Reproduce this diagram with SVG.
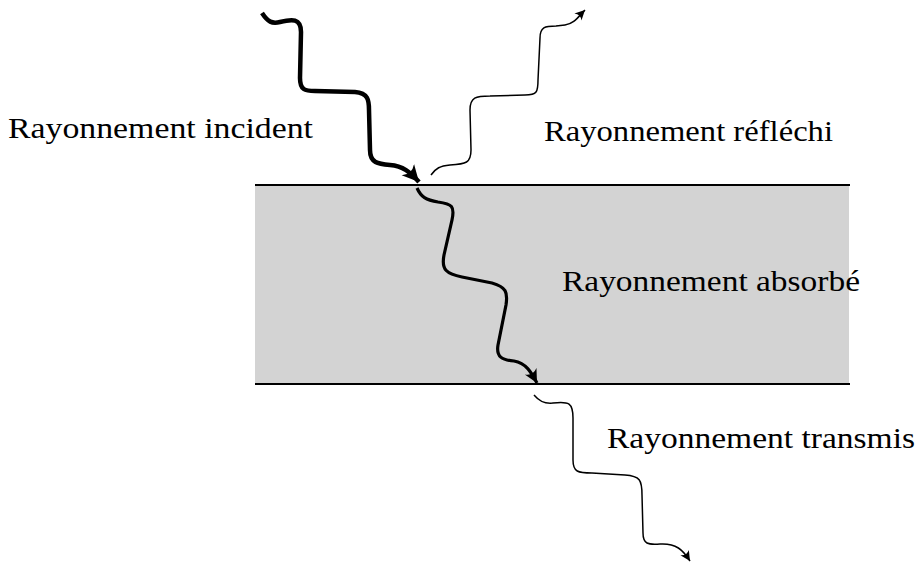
<svg xmlns="http://www.w3.org/2000/svg" width="918" height="563" viewBox="0 0 918 563">
<style>
.lbl{font-family:"Liberation Serif","Times New Roman",serif;font-size:29px;fill:#000}
.ray{fill:none;stroke:#000;stroke-linecap:butt;stroke-linejoin:round}
.edge{stroke:#000;stroke-width:2}
</style>
<defs>
<marker id="ah" viewBox="-10 -6 12 12" refX="0" refY="0" markerWidth="12" markerHeight="12" markerUnits="userSpaceOnUse" orient="auto">
<path d="M0,0 L-10,-5 Q-6,0 -10,5 Z" fill="#000"/>
</marker>
<marker id="ahb" viewBox="-10 -6 12 12" refX="0" refY="0" markerWidth="20" markerHeight="20" markerUnits="userSpaceOnUse" orient="auto">
<path d="M0,0 L-10,-5 Q-6,0 -10,5 Z" fill="#000"/>
</marker>
<marker id="ahm" viewBox="-10 -6 12 12" refX="0" refY="0" markerWidth="16" markerHeight="16" markerUnits="userSpaceOnUse" orient="auto">
<path d="M0,0 L-10,-5 Q-6,0 -10,5 Z" fill="#000"/>
</marker>
</defs>
<g id="slab">
<rect x="255" y="185" width="594" height="199" fill="#d3d3d3"/>
<line class="edge" x1="255" y1="185" x2="850" y2="185"/>
<line class="edge" x1="255" y1="384" x2="850" y2="384"/>
</g>
<g id="connectors">
<path id="incident" class="ray" stroke-width="4.5" marker-end="url(#ahb)" d="M262,13 C268,22 272,24 280,22 C292,19 301,18 301,32 L300,78 C300,90 305,91 315,91 L355,92 C368,93 369,100 369,110 L370,150 C370,163 378,164 390,165 C403,166 410,172 419,182"/>
<path id="reflected" class="ray" stroke-width="1.5" marker-end="url(#ah)" d="M431,175 C436,168 440,166 450,165 C466,164 471,163 471,150 L470,110 C470,97 476,96 490,96 L525,95 C537,95 538,92 538,80 L540,38 C540,27 545,26 556,26 L565,25 C574,24 578,17 585,10"/>
<path id="absorbed" class="ray" stroke-width="3.2" marker-end="url(#ahm)" d="M417,188 C421,197 426,200 438,202 C452,204 455,206 452,220 L444,255 C441,270 447,274 462,277 L492,283 C506,287 508,292 506,305 L498,345 C496,357 502,360 514,361 C526,363 531,372 537,383"/>
<path id="transmitted" class="ray" stroke-width="1.5" marker-end="url(#ah)" d="M534,395 C539,401 544,404 553,403 C569,401 573,403 573,418 L573,460 C573,472 578,473 592,473 L625,475 C640,476 642,480 642,495 L643,533 C643,544 648,545 660,544 C676,543 683,550 690,561"/>
</g>
<g id="label-incident"><text class="lbl" x="8" y="138" textLength="305" lengthAdjust="spacingAndGlyphs">Rayonnement incident</text></g>
<g id="label-reflechi"><text class="lbl" x="544" y="141" textLength="289" lengthAdjust="spacingAndGlyphs">Rayonnement réfléchi</text></g>
<g id="label-absorbe"><text class="lbl" x="562" y="291" textLength="298" lengthAdjust="spacingAndGlyphs">Rayonnement absorbé</text></g>
<g id="label-transmis"><text class="lbl" x="607" y="448" textLength="308" lengthAdjust="spacingAndGlyphs">Rayonnement transmis</text></g>
</svg>
